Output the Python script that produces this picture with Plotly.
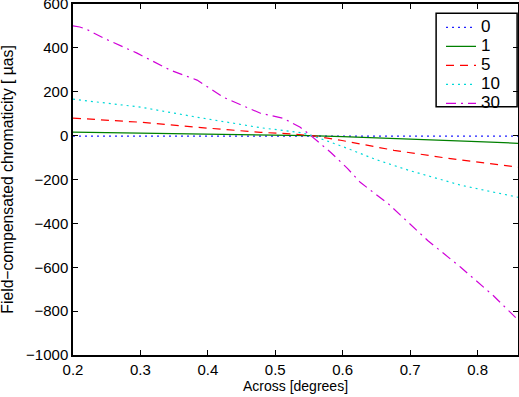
import plotly.graph_objects as go

# data
x0 = [0.2, 0.3, 0.4, 0.5, 0.6, 0.7, 0.8, 0.86]
y0 = [-2, -2, -2, -2, -2, -2, -2, -2]

x1 = [0.2, 0.3, 0.4, 0.5, 0.55, 0.6, 0.7, 0.8, 0.86]
y1 = [16, 12, 8, 3, 0, -5, -15, -27, -35]

x5 = [0.2, 0.3, 0.384, 0.478, 0.522, 0.555, 0.597, 0.676, 0.76, 0.86]
y5 = [80, 61, 38, 15, 8, 0, -21, -67, -105, -144]

x10 = [0.2, 0.3, 0.384, 0.478, 0.537, 0.555, 0.6, 0.65, 0.7, 0.775, 0.86]
y10 = [166, 130, 84, 36, 14, 0, -50, -110, -160, -226, -281]

x30 = [0.2, 0.21, 0.22, 0.245, 0.295, 0.344, 0.384, 0.423, 0.478, 0.512,
       0.537, 0.552, 0.582, 0.607, 0.626, 0.667, 0.726, 0.775, 0.824, 0.86]
y30 = [500, 495, 485, 445, 376, 299, 253, 175, 102, 79,
       38, 2, -76, -149, -213, -309, -478, -600, -731, -840]

series = [
    ("0", x0, y0, "#2020ff", "2px,4px"),
    ("1", x1, y1, "#008000", "solid"),
    ("5", x5, y5, "#ff0000", "8px,6px"),
    ("10", x10, y10, "#00d8d8", "2px,4px"),
    ("30", x30, y30, "#d000d8", "10px,5px,2px,5px"),
]

fig = go.Figure()
for name, xs, ys, col, dash in series:
    fig.add_trace(go.Scatter(x=xs, y=ys, mode="lines",
                             name="<span style='font-size:17px'>%s</span>" % name,
                             line=dict(color=col, width=1.2, dash=dash)))

axis_style = dict(showline=True, linecolor="black", linewidth=1.5,
                  mirror="ticks", ticks="inside", ticklen=5,
                  tickcolor="black", showgrid=False, zeroline=False,
                  automargin=False, ticklabeloverflow="allow",
                  tickfont=dict(size=15, color="black"))

fig.update_layout(
    width=519, height=397,
    margin=dict(l=73, r=1, t=4, b=42),
    paper_bgcolor="white", plot_bgcolor="white",
    font=dict(family="Liberation Sans, Arial, sans-serif", color="black", size=14),
    xaxis=dict(range=[0.2, 0.86], dtick=0.1, tick0=0.2,
               title=dict(text="Across [degrees]", font=dict(size=14), standoff=3),
               **axis_style),
    yaxis=dict(range=[-1000, 600], dtick=200, **axis_style),
    legend=dict(x=0.827, y=0.975, xanchor="left", yanchor="top",
                bgcolor="rgba(0,0,0,0)", borderwidth=0,
                font=dict(size=11), itemwidth=30, tracegroupgap=0),
    shapes=[dict(type="rect", xref="paper", yref="paper",
                 x0=0.816, x1=0.998, y0=0.707, y1=0.974,
                 line=dict(color="black", width=1.5),
                 fillcolor="white", layer="below")],
    annotations=[dict(text="Field−compensated chromaticity [ µas]",
                      textangle=-90, xref="paper", yref="paper",
                      x=-0.148, y=0.5, xanchor="center", yanchor="middle",
                      showarrow=False, font=dict(size=15.7))],
)

# page body has an 8px default margin; drop it so the figure sits at 0,0
fig.write_html("out.html", config={"displayModeBar": False},
               post_script="document.body.style.margin='0px';")
